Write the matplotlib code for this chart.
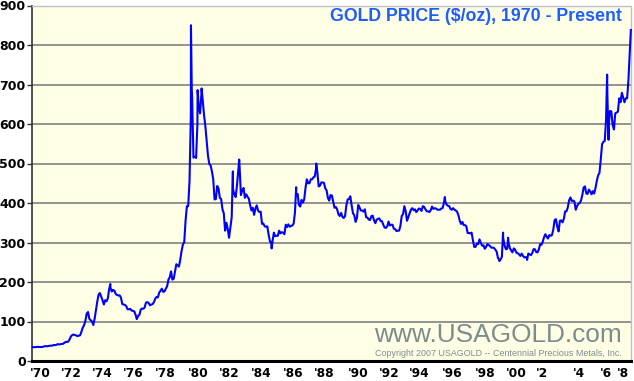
import matplotlib
matplotlib.use("Agg")
import matplotlib.pyplot as plt
import numpy as np

# Monthly gold prices ($/oz)
p1970 = [35.0, 35.0, 35.1, 35.6, 35.9, 35.4, 35.3, 35.4, 36.2, 37.5, 37.4, 37.4]
p1971 = [37.9, 38.7, 38.9, 39.0, 40.5, 40.1, 41.0, 42.7, 42.0, 42.5, 42.9, 43.5]
p1972 = [45.8, 48.3, 48.3, 49.0, 54.6, 62.1, 65.7, 67.0, 65.5, 64.9, 62.9, 63.9]
p1973 = [65.1, 74.2, 84.4, 90.5, 102.0, 120.1, 124.0, 106.8, 103.0, 100.1, 91.0, 106.7]
p1974 = [129, 150, 168, 172, 163, 154, 143, 154, 151, 158, 181, 186]
p1975 = [176, 180, 178, 170, 167, 166, 166, 160, 144, 143, 142, 139]
p1976 = [131, 131, 132, 128, 127, 126, 118, 106, 114, 117, 130, 133]
p1977 = [132, 136, 148, 149, 147, 141, 143, 144, 149, 158, 162, 161]
p1978 = [173, 178, 183, 175, 176, 183, 189, 206, 212, 227, 206, 208]
p1979 = [227, 245, 242, 239, 257, 279, 295, 301, 355, 392, 392, 456]
p1980 = [620, 665, 515, 517, 514, 600, 645, 627, 674, 661, 623, 595]
p1981 = [557, 520, 499, 495, 480, 460, 409, 410, 443, 437, 413, 410]
p1982 = [384, 374, 330, 350, 334, 312, 339, 364, 435, 422, 415, 444]
p1983 = [481, 491, 420, 432, 438, 413, 422, 416, 411, 394, 381, 388]
p1984 = [370, 386, 394, 381, 377, 378, 347, 348, 341, 340, 341, 320]
p1985 = [303, 299, 304, 325, 316, 317, 317, 330, 323, 326, 325, 321]
p1986 = [345, 339, 346, 340, 342, 343, 348, 376, 418, 423, 395, 391]
p1987 = [408, 401, 409, 438, 460, 450, 450, 460, 460, 465, 467, 487]
p1988 = [477, 442, 444, 452, 452, 451, 437, 432, 413, 406, 420, 419]
p1989 = [404, 388, 390, 384, 371, 367, 375, 365, 362, 367, 394, 409]
p1990 = [410, 417, 394, 374, 369, 352, 362, 395, 389, 381, 381, 378]
p1991 = [384, 364, 363, 358, 357, 367, 368, 356, 349, 358, 360, 361]
p1992 = [354, 354, 345, 338, 337, 341, 353, 343, 345, 345, 335, 334]
p1993 = [329, 330, 330, 342, 367, 372, 392, 379, 355, 364, 374, 383]
p1994 = [387, 382, 384, 377, 381, 386, 385, 380, 392, 390, 384, 379]
p1995 = [379, 377, 382, 391, 385, 387, 386, 383, 383, 383, 386, 387]
p1996 = [400, 405, 396, 393, 392, 385, 383, 387, 383, 381, 378, 369]
p1997 = [355, 347, 352, 344, 344, 341, 324, 324, 323, 325, 306, 289]
p1998 = [289, 297, 296, 308, 299, 292, 293, 284, 289, 296, 294, 291]
p1999 = [287, 287, 286, 282, 277, 261, 256, 257, 264, 311, 293, 283]
p2000 = [284, 300, 286, 280, 275, 285, 282, 274, 273, 270, 266, 272]
p2001 = [266, 262, 263, 261, 272, 270, 268, 273, 283, 283, 276, 275]
p2002 = [282, 296, 294, 302, 314, 321, 314, 310, 319, 317, 319, 333]
p2003 = [357, 359, 340, 328, 355, 356, 351, 360, 379, 379, 389, 407]
p2004 = [414, 405, 406, 404, 383, 392, 398, 400, 406, 420, 439, 442]
p2005 = [424, 423, 434, 429, 422, 430, 424, 438, 456, 470, 476, 510]
p2006 = [549, 555, 557, 610, 676, 596, 633, 632, 598, 586, 627, 629]
p2007 = [631, 665, 655, 679, 667, 655, 665, 665, 712, 780]

# Intra-month extremes visible on the chart
peak_dates = [1974.95, 1980.05, 1980.10, 1980.47, 1980.72, 1982.70, 1983.10,
              1985.15, 1986.70, 1987.97, 1996.10, 1999.55, 1999.78, 2000.10,
              2001.30, 2006.36, 2006.45, 2007.86]
peak_values = [195, 850, 690, 686, 690, 480, 510,
               285, 440, 500, 415, 253, 325, 312,
               256, 725, 560, 838]

monthly = [p1970, p1971, p1972, p1973, p1974, p1975, p1976, p1977, p1978, p1979,
           p1980, p1981, p1982, p1983, p1984, p1985, p1986, p1987, p1988, p1989,
           p1990, p1991, p1992, p1993, p1994, p1995, p1996, p1997, p1998, p1999,
           p2000, p2001, p2002, p2003, p2004, p2005, p2006, p2007]

x_labels = ["'70", "'72", "'74", "'76", "'78", "'80", "'82", "'84", "'86", "'88",
            "'90", "'92", "'94", "'96", "'98", "'00", "'2", "'4", "'6", "'8"]
y_ticks = [0, 100, 200, 300, 400, 500, 600, 700, 800, 900]

dates, values = [], []
for i, vals in enumerate(monthly):
    for m, v in enumerate(vals):
        dates.append(1970 + i + (m + 0.5) / 12)
        values.append(v)
dates += peak_dates
values += peak_values
order = np.argsort(dates)
dates = np.array(dates)[order]
values = np.array(values)[order]

W, H = 634, 381
fig = plt.figure(figsize=(W / 100, H / 100), dpi=100)
fig.patch.set_facecolor("white")
left, right, top, bottom = 32, 631, 5.5, 361
ax = fig.add_axes([left / W, (H - bottom) / H, (right - left) / W, (bottom - top) / H])
ax.set_facecolor("#FFFFE6")

ax.set_xlim(1970, 2007.87)
ax.set_ylim(0, 900)

for y in y_ticks[1:-1]:
    ax.axhline(y, color="#8a8a8a", lw=1.3, zorder=1)

ax.plot(dates, values, color="#0000FF", lw=1.5, zorder=3, clip_on=False)

# spines
ax.spines["left"].set_color("#333333")
ax.spines["left"].set_linewidth(1.2)
ax.spines["bottom"].set_color("black")
ax.spines["bottom"].set_linewidth(2.2)
for s in ("top", "right"):
    ax.spines[s].set_color("#c0c0c0")
    ax.spines[s].set_linestyle((0, (1, 1)))
    ax.spines[s].set_linewidth(1.0)

ax.set_yticks(y_ticks)
ax.set_yticklabels([str(v) for v in y_ticks], fontsize=9, fontweight="bold",
                   family="DejaVu Sans")
ax.tick_params(axis="y", length=3.5, width=1, color="#333333", pad=1)

tick_pos = [1970.5, 1972.5, 1974.45, 1976.4, 1978.4, 1980.5, 1982.5, 1984.5,
            1986.5, 1988.5, 1990.6, 1992.6, 1994.5, 1996.55, 1998.65, 2000.6,
            2002.25, 2004.55, 2006.3, 2007.35]
ax.set_xticks(tick_pos)
ax.set_xticklabels(x_labels, fontsize=8.8, fontweight="bold", family="DejaVu Sans")
ax.tick_params(axis="x", length=0, pad=4)

ax.text(0.985, 0.955, "GOLD PRICE ($/oz), 1970 - Present", transform=ax.transAxes,
        ha="right", va="baseline", fontsize=12.8, fontweight="bold",
        family="Liberation Sans", color="#1E5EFF", zorder=5)
ax.text(0.985, (bottom - 342) / (bottom - top), "www.USAGOLD.com", transform=ax.transAxes,
        ha="right", va="baseline", fontsize=18.9, family="Liberation Sans",
        color="#7b8c8c", zorder=2)
ax.text(0.985, (bottom - 356.5) / (bottom - top),
        "Copyright 2007 USAGOLD -- Centennial Precious Metals, Inc.",
        transform=ax.transAxes, ha="right", va="baseline", fontsize=6.4,
        family="Liberation Sans", color="#7b8c8c", zorder=2)

fig.savefig("out.png", dpi=100, facecolor="white")
